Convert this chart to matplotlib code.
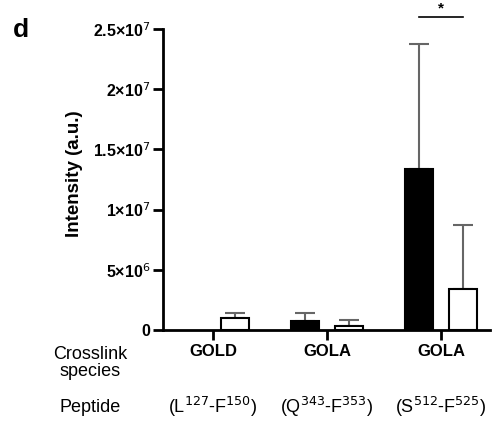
import matplotlib
matplotlib.use("Agg")
import matplotlib.pyplot as plt
import numpy as np

plt.rcParams['font.family'] = ['Liberation Sans', 'DejaVu Sans']

species = ["GOLD", "GOLA", "GOLA"]
peptides = [r"(L$^{127}$-F$^{150}$)", r"(Q$^{343}$-F$^{353}$)", r"(S$^{512}$-F$^{525}$)"]
black_vals = [0.0, 0.77e6, 13.37e6]
black_err = [0.0, 0.62e6, 10.4e6]
white_vals = [1.0e6, 0.36e6, 3.38e6]
white_err = [0.4e6, 0.47e6, 5.37e6]
yticks = [0, 5e6, 1e7, 1.5e7, 2e7, 2.5e7]
yticklabels = ["0", r"5×10$^6$", r"1×10$^7$", r"1.5×10$^7$", r"2×10$^7$", r"2.5×10$^7$"]

W, H = 494, 425
fig = plt.figure(figsize=(W/100, H/100), dpi=100)
ax_l, ax_r, ax_b, ax_t = 163, 490, 330, 29
ax = fig.add_axes([ax_l/W, 1-ax_b/H, (ax_r-ax_l)/W, (ax_b-ax_t)/H])

x = np.arange(len(species))
bw = 0.245
off = 0.19
blw = [1.5 if v > 0 else 0 for v in black_vals]
ax.bar(x-off, black_vals, bw, color='black', edgecolor='black', linewidth=blw, zorder=2)
ax.bar(x+off, white_vals, bw, color='white', edgecolor='black', linewidth=1.5, zorder=2)
errkw = dict(fmt='none', ecolor='#666666', elinewidth=1.5, capsize=7, capthick=1.5, zorder=1)
for i in range(len(x)):
    if black_err[i] > 0:
        ax.errorbar(x[i]-off, black_vals[i], yerr=[[0], [black_err[i]]], **errkw)
    ax.errorbar(x[i]+off, white_vals[i], yerr=[[0], [white_err[i]]], **errkw)

ax.set_xlim(-0.44, 2.43)
ax.set_ylim(0, 2.5e7)
ax.set_yticks(yticks)
ax.set_yticklabels(yticklabels, fontweight='bold', fontsize=11.5)
ax.set_xticks(x)
ax.set_xticklabels([])
ax.tick_params(axis='both', width=2, length=7, direction='out')
ax.tick_params(axis='y', pad=2)
for s in ['top', 'right']:
    ax.spines[s].set_visible(False)
for s in ['left', 'bottom']:
    ax.spines[s].set_linewidth(2)
ax.set_ylabel("Intensity (a.u.)", fontweight='bold', fontsize=13.5)
ax.yaxis.set_label_coords((83-ax_l)/(ax_r-ax_l), 0.52)

# category labels
for i in range(len(x)):
    ax.annotate(species[i], (x[i], 0), xycoords=('data', 'axes fraction'),
                xytext=(0, -22), textcoords='offset pixels', ha='center', va='center',
                fontweight='bold', fontsize=12, annotation_clip=False)
    ax.annotate(peptides[i], (x[i], 0), xycoords=('data', 'axes fraction'),
                xytext=(0, -77), textcoords='offset pixels', ha='center', va='center',
                fontsize=13, annotation_clip=False)

fig.text(90/W, 1-363/H, "Crosslink\nspecies", ha='center', va='center', fontsize=13, linespacing=1.05)
fig.text(90/W, 1-407/H, "Peptide", ha='center', va='center', fontsize=13)
fig.text(21/W, 1-30/H, "d", ha='center', va='center', fontsize=19, fontweight='bold')

# significance
ax.plot([x[2]-0.19, x[2]+0.19], [2.6e7, 2.6e7], color='black', lw=1.2, clip_on=False)
ax.text(x[2], 2.64e7, "*", ha='center', va='baseline', fontsize=11, fontweight='bold')

fig.savefig("out.png", dpi=100)
